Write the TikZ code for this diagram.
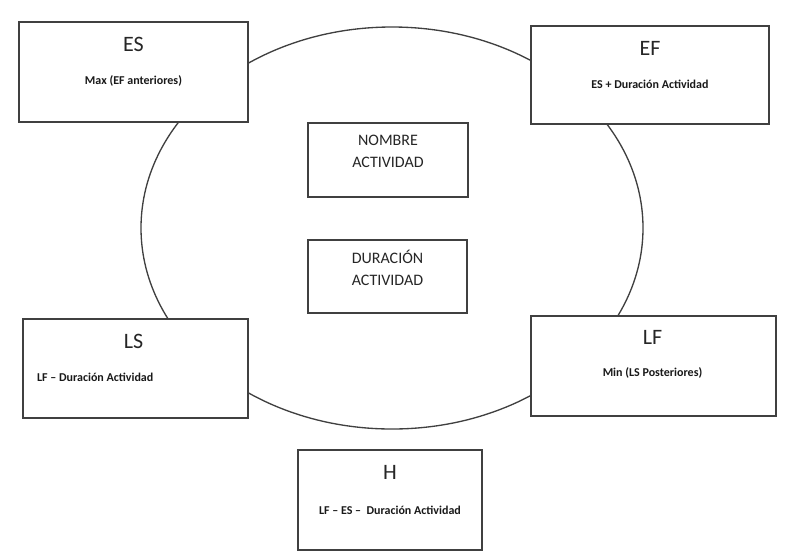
\documentclass[tikz,border=0pt]{standalone}
\usepackage{fontspec}
\setmainfont{Carlito}
\usetikzlibrary{calc}

\begin{document}
\begin{tikzpicture}[x=0.75pt,y=-0.75pt,
    box/.style={draw=black!75,line width=0.9pt,fill=white,inner sep=0pt},
    ttl/.style={font=\fontsize{16.5}{19}\selectfont,text=black!85},
    sub/.style={font=\fontsize{9}{10}\selectfont\bfseries,text=black!90},
    mid/.style={align=center,font=\fontsize{12}{16.5}\selectfont,text=black!85}]
  \useasboundingbox (0,0) rectangle (788,558);
  % activity circle
  \draw[black!75,line width=1pt] (392,228) ellipse [x radius=188.25pt, y radius=150.75pt];
  % corner boxes
  \node[box,minimum width=171.75pt,minimum height=75pt] (es) at (133.5,72) {};
  \node[box,minimum width=178.5pt,minimum height=73.5pt] (ef) at (650,75) {};
  \node[box,minimum width=168.75pt,minimum height=74.25pt] (ls) at (135.5,368.5) {};
  \node[box,minimum width=183.75pt,minimum height=75pt] (lf) at (653.5,366) {};
  \node[box,minimum width=138pt,minimum height=75pt] (h) at (390,500) {};
  % middle boxes
  \node[box,minimum width=120pt,minimum height=55.5pt] (nombre) at (388,160) {};
  \node[box,minimum width=119.25pt,minimum height=54.75pt] (duracion) at (387.5,276.5) {};
  % texts
  \node[ttl] (es-t) at ($(es.north)+(0,23)$) {ES};
  \node[sub] (es-s) at ($(es.north)+(0,60)$) {Max (EF anteriores)};
  \node[ttl] (ef-t) at ($(ef.north)+(0,23)$) {EF};
  \node[sub] (ef-s) at ($(ef.north)+(0,59)$) {ES + Duración Actividad};
  \node[ttl] (ls-t) at ($(ls.north)+(-2,23)$) {LS};
  \node[sub,anchor=west] (ls-s) at ($(ls.north west)+(10,59)$) {LF – Duración Actividad};
  \node[ttl] (lf-t) at ($(lf.north)+(-1,22)$) {LF};
  \node[sub] (lf-s) at ($(lf.north)+(-1,58)$) {Min (LS Posteriores)};
  \node[ttl] (h-t) at ($(h.north)+(0,23)$) {H};
  \node[sub] (h-s) at ($(h.north)+(0,61)$) {LF – ES –\ \ Duración Actividad};
  \node[mid] (nombre-t) at ($(nombre.north)+(0,29)$) {NOMBRE\\ACTIVIDAD};
  \node[mid] (duracion-t) at ($(duracion.north)+(0,28.5)$) {DURACIÓN\\ACTIVIDAD};
\end{tikzpicture}
\end{document}
